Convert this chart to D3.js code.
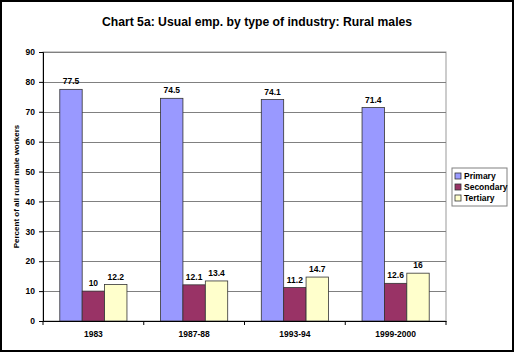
<!DOCTYPE html>
<html>
<head>
<meta charset="utf-8">
<script src="https://cdn.jsdelivr.net/npm/d3@7"></script>
<style>
  body { margin: 0; background: #fff; }
  svg text { font-family: Arial, "Liberation Sans", sans-serif; font-weight: bold; fill: #000; }
</style>
</head>
<body>
<div id="chart"></div>
<script>
// chart data
const periods = ["1983", "1987-88", "1993-94", "1999-2000"];
const seriesNames = ["Primary", "Secondary", "Tertiary"];
const primary = [77.5, 74.5, 74.1, 71.4];
const secondary = [10, 12.1, 11.2, 12.6];
const tertiary = [12.2, 13.4, 14.7, 16];
const yTicks = [0, 10, 20, 30, 40, 50, 60, 70, 80, 90];

const colors = ["#9999FF", "#993366", "#FFFFCC"];
const allSeries = [primary, secondary, tertiary];

const W = 514, H = 352;
const margin = {top: 52, right: 68, bottom: 31, left: 43};
const width = W - margin.left - margin.right;
const height = H - margin.top - margin.bottom;

const svg = d3.select("#chart").append("svg")
    .attr("width", W)
    .attr("height", H);

// outer border
svg.append("rect")
    .attr("x", 1).attr("y", 1)
    .attr("width", W - 2).attr("height", H - 2)
    .attr("fill", "#fff")
    .attr("stroke", "#000")
    .attr("stroke-width", 2);

svg.append("text")
    .attr("x", 257).attr("y", 26)
    .attr("text-anchor", "middle")
    .attr("font-size", 12.2)
    .text("Chart 5a: Usual emp. by type of industry: Rural males");

const g = svg.append("g").attr("transform", `translate(${margin.left},${margin.top})`);

const x0 = d3.scaleBand().domain(periods).range([0, width]).paddingInner(0).paddingOuter(0);
// gap of 150% of bar width -> bars take 3/4.5 of each band
const x1 = d3.scaleBand().domain(seriesNames)
    .range([0, x0.bandwidth()])
    .paddingOuter(0.75).paddingInner(0);
const y = d3.scaleLinear().domain([0, 90]).range([height, 0]);

// plot area border (gray)
g.append("rect")
    .attr("width", width).attr("height", height)
    .attr("fill", "none").attr("stroke", "#999").attr("stroke-width", 1);

// gridlines
g.selectAll(".grid").data(yTicks.filter(d => d > 0)).enter().append("line")
    .attr("x1", 0).attr("x2", width)
    .attr("y1", d => Math.round(y(d)) + 0.5).attr("y2", d => Math.round(y(d)) + 0.5)
    .attr("stroke", "#808080").attr("stroke-width", 1);

// bars
const groups = g.selectAll(".grp").data(periods).enter().append("g")
    .attr("transform", d => `translate(${x0(d)},0)`);

groups.selectAll("rect").data((p, i) => seriesNames.map((s, j) => ({s, v: allSeries[j][i], j})))
    .enter().append("rect")
    .attr("x", d => x1(d.s))
    .attr("y", d => y(d.v))
    .attr("width", x1.bandwidth())
    .attr("height", d => height - y(d.v))
    .attr("fill", d => colors[d.j])
    .attr("stroke", "#333")
    .attr("stroke-width", 0.8);

groups.selectAll(".lbl").data((p, i) => seriesNames.map((s, j) => ({s, v: allSeries[j][i], j})))
    .enter().append("text")
    .attr("x", d => x1(d.s) + x1.bandwidth() / 2)
    .attr("y", d => y(d.v) - 5)
    .attr("text-anchor", "middle")
    .attr("font-size", 8.5)
    .text(d => d.v);

// y axis
const yAxis = g.append("g")
    .call(d3.axisLeft(y).tickValues(yTicks).tickSize(4).tickPadding(4));
yAxis.select(".domain").attr("stroke", "#000");
yAxis.selectAll(".tick line").attr("stroke", "#000");
yAxis.selectAll("text").attr("font-size", 8.5).style("font-family", "Arial, 'Liberation Sans', sans-serif");

// x axis
const xAxis = g.append("g")
    .attr("transform", `translate(0,${height})`)
    .call(d3.axisBottom(x0).tickSize(0).tickPadding(10));
xAxis.select(".domain").attr("stroke", "#000");
xAxis.selectAll("text").attr("font-size", 8.5).style("font-family", "Arial, 'Liberation Sans', sans-serif");
// category boundary ticks
g.selectAll(".xtick").data(periods.concat(["end"])).enter().append("line")
    .attr("x1", (d, i) => i * x0.bandwidth()).attr("x2", (d, i) => i * x0.bandwidth())
    .attr("y1", height).attr("y2", height + 4)
    .attr("stroke", "#000");

// y label
svg.append("text")
    .attr("transform", `translate(19,${margin.top + height / 2}) rotate(-90)`)
    .attr("text-anchor", "middle")
    .attr("font-size", 8)
    .text("Percent of all rural male workers");

// legend
const lg = svg.append("g").attr("transform", "translate(452,168)");
lg.append("rect")
    .attr("width", 55).attr("height", 38)
    .attr("fill", "#fff").attr("stroke", "#808080");
seriesNames.forEach((s, i) => {
    lg.append("rect")
        .attr("x", 3).attr("y", 5 + i * 11)
        .attr("width", 6).attr("height", 6)
        .attr("fill", colors[i]).attr("stroke", "#333").attr("stroke-width", 0.8);
    lg.append("text")
        .attr("x", 12).attr("y", 11 + i * 11)
        .attr("font-size", 8.5)
        .text(s);
});
</script>
</body>
</html>
